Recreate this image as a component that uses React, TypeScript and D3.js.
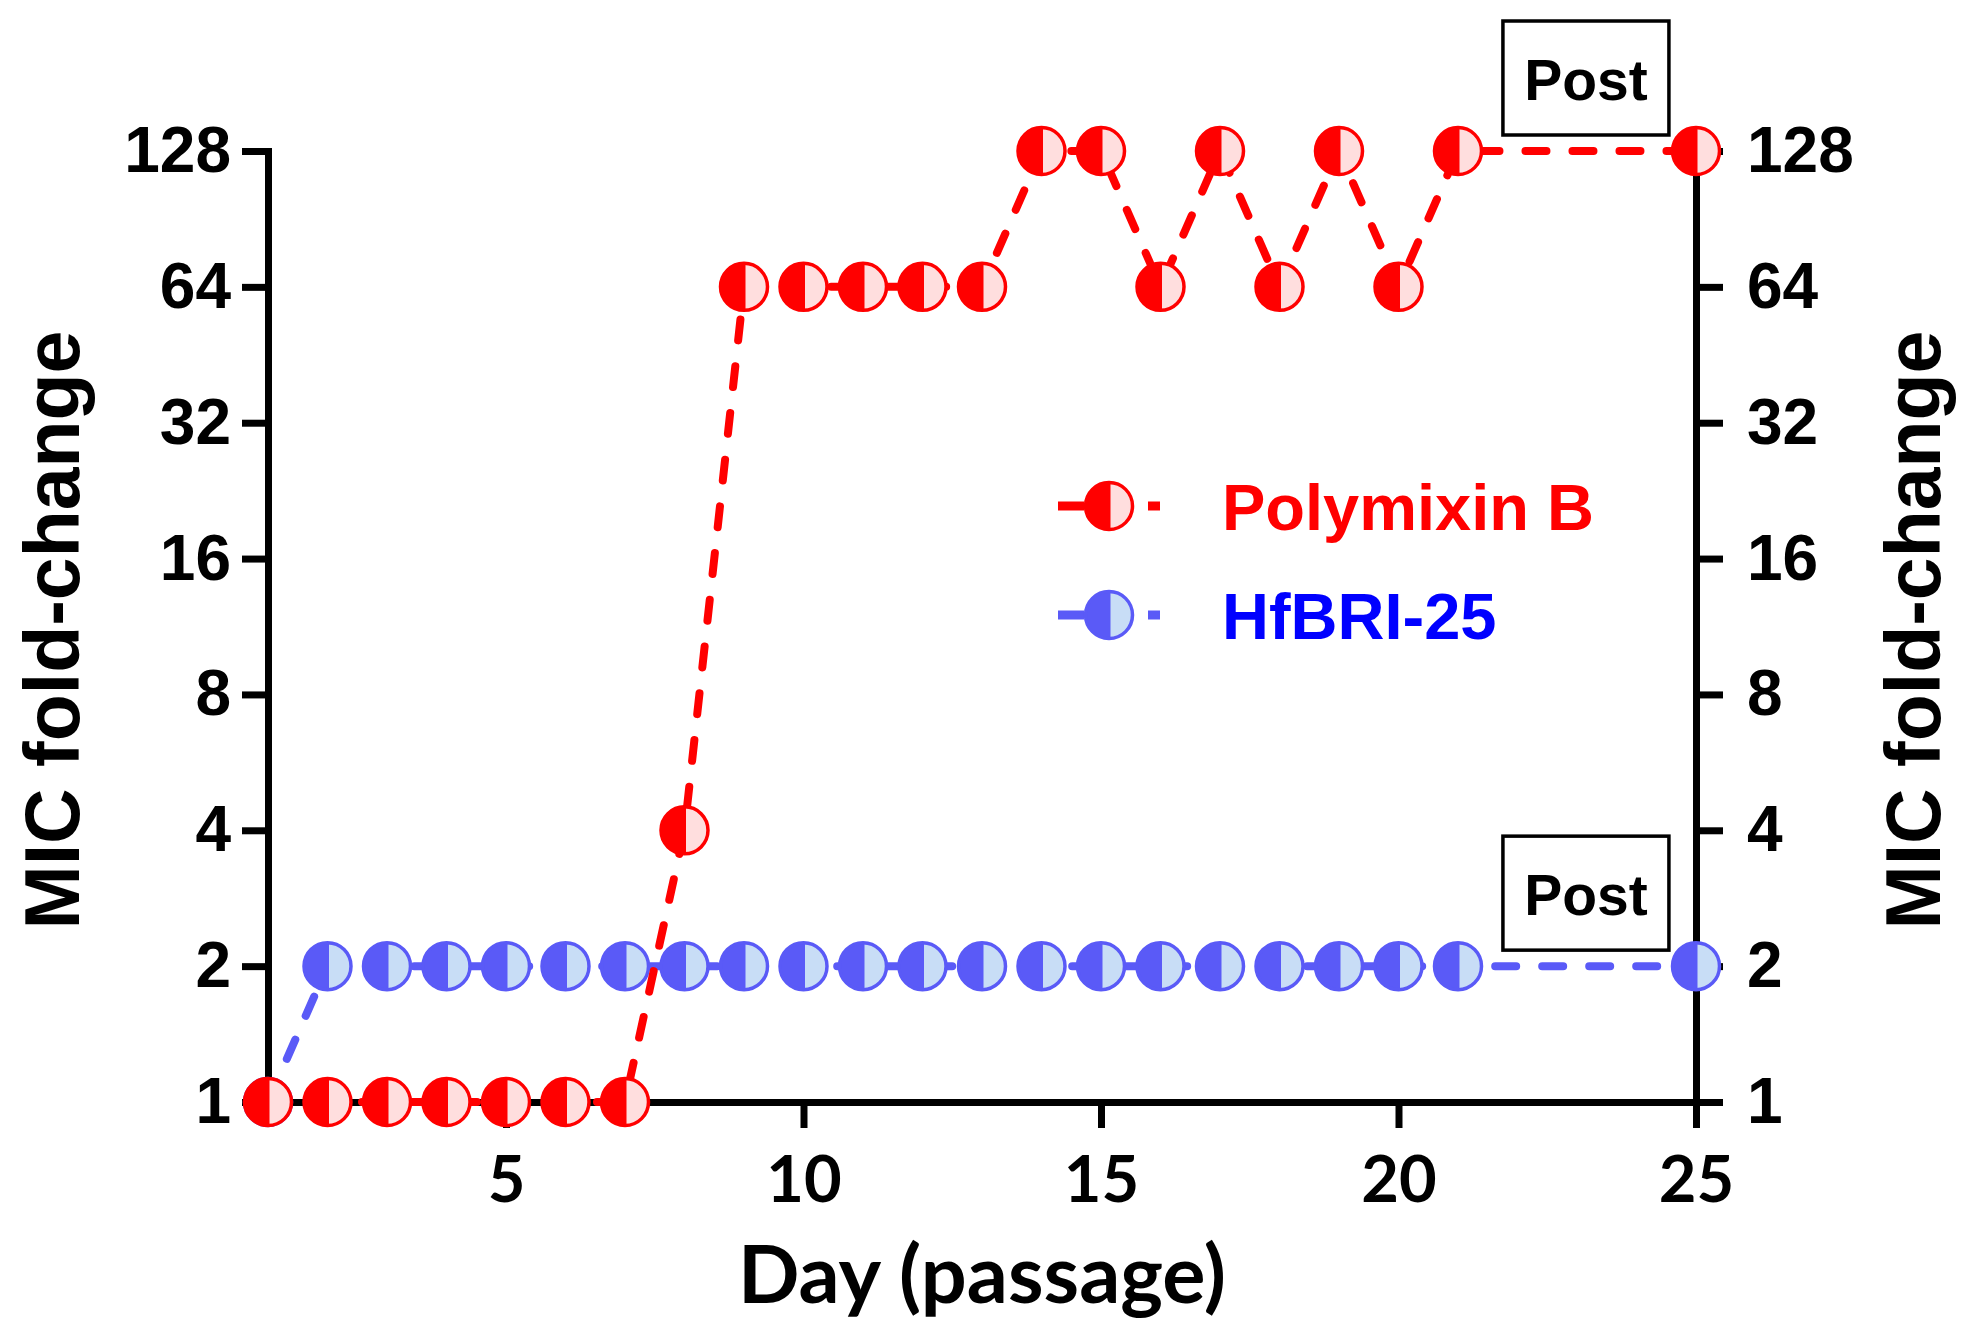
import React, { useRef, useEffect } from "react";
import * as d3 from "d3";

const days = [1, 2, 3, 4, 5, 6, 7, 8, 9, 10, 11, 12, 13, 14, 15, 16, 17, 18, 19, 20, 21, 25];
const polymyxinB = [1, 1, 1, 1, 1, 1, 1, 4, 64, 64, 64, 64, 64, 128, 128, 64, 128, 64, 128, 64, 128, 128];
const hfbri25 = [1, 2, 2, 2, 2, 2, 2, 2, 2, 2, 2, 2, 2, 2, 2, 2, 2, 2, 2, 2, 2, 2];
const yTicks = [1, 2, 4, 8, 16, 32, 64, 128];
const xTicks = [5, 10, 15, 20, 25];
const seriesNames = ["Polymixin B", "HfBRI-25"];
const postLabel = "Post";

const ARIAL = "'Liberation Sans', Arial, sans-serif";
const CALIBRI = "Lato, 'Open Sans', sans-serif";

const App: React.FC = () => {
  const ref = useRef<SVGSVGElement | null>(null);

  useEffect(() => {
    if (!ref.current) return;
    const svg = d3.select(ref.current);
    svg.selectAll("*").remove();

    const width = 1977;
    const height = 1344;
    const left = 268;
    const right = 1696;
    const top = 151;
    const bottom = 1102;

    const x = d3.scaleLinear().domain([1, 25]).range([left, right]);
    const y = d3.scaleLog().base(2).domain([1, 128]).range([bottom, top]);

    svg.attr("width", width).attr("height", height);

    const styleAxis = (g: d3.Selection<SVGGElement, unknown, null, undefined>, font: string, size: number) => {
      g.attr("font-family", font).attr("font-size", size).attr("font-weight", "bold");
      g.selectAll(".domain").attr("stroke-width", 7).attr("stroke", "#000").attr("stroke-linecap", "square");
      g.selectAll(".tick line").attr("stroke-width", 7).attr("stroke", "#000");
      g.selectAll(".tick text").attr("fill", "#000");
    };

    // axes
    const gx = svg
      .append("g")
      .attr("transform", `translate(0,${bottom})`)
      .call(d3.axisBottom(x).tickValues(xTicks).tickSize(26).tickSizeOuter(0).tickPadding(28).tickFormat(d3.format("d")));
    styleAxis(gx, CALIBRI, 65);

    const gl = svg
      .append("g")
      .attr("transform", `translate(${left},0)`)
      .call(d3.axisLeft(y).tickValues(yTicks).tickSize(26).tickSizeOuter(0).tickPadding(11).tickFormat(d3.format("d")));
    styleAxis(gl, ARIAL, 64);

    const gr = svg
      .append("g")
      .attr("transform", `translate(${right},0)`)
      .call(d3.axisRight(y).tickValues(yTicks).tickSize(27).tickSizeOuter(0).tickPadding(24).tickFormat(d3.format("d")));
    styleAxis(gr, ARIAL, 64);

    // axis titles
    svg
      .append("text")
      .attr("x", (left + right) / 2)
      .attr("y", 1303)
      .attr("text-anchor", "middle")
      .attr("font-family", CALIBRI)
      .attr("font-weight", "bold")
      .attr("font-size", 81)
      .text("Day (passage)");

    [79, 1940].forEach((bx) => {
      svg
        .append("text")
        .attr("transform", `translate(${bx},630) rotate(-90)`)
        .attr("text-anchor", "middle")
        .attr("font-family", ARIAL)
        .attr("font-weight", "bold")
        .attr("font-size", 77)
        .text("MIC fold-change");
    });

    const r = 23.5;
    const halfArc = d3.arc<any>()({ innerRadius: 0, outerRadius: r, startAngle: Math.PI, endAngle: 2 * Math.PI }) as string;

    const drawMarker = (g: d3.Selection<any, any, any, any>, dark: string, light: string) => {
      g.append("circle").attr("r", r).attr("fill", light);
      g.append("path").attr("d", halfArc).attr("fill", dark);
      g.append("line").attr("y1", -r).attr("y2", r).attr("stroke", dark).attr("stroke-width", 3);
      g.append("circle").attr("r", r).attr("fill", "none").attr("stroke", dark).attr("stroke-width", 3.5);
    };

    const series = [
      { values: hfbri25, dark: "#5a5af7", light: "#c8ddf6" },
      { values: polymyxinB, dark: "#ff0000", light: "#ffdede" },
    ];

    const line = d3
      .line<number>()
      .x((_, i) => x(days[i]))
      .y((d) => y(d));

    series.forEach((s) => {
      svg
        .append("path")
        .attr("d", line(s.values))
        .attr("fill", "none")
        .attr("stroke", s.dark)
        .attr("stroke-width", 8)
        .attr("stroke-linecap", "round")
        .attr("stroke-dasharray", "21 26");

      svg
        .append("g")
        .selectAll("g")
        .data(s.values)
        .enter()
        .append("g")
        .attr("transform", (d, i) => `translate(${x(days[i])},${y(d)})`)
        .each(function () {
          drawMarker(d3.select(this), s.dark, s.light);
        });
    });

    // Post annotations, anchored above the last passage of each series
    [polymyxinB, hfbri25].forEach((vals) => {
      const cx = x(23.15);
      const cy = y(vals[vals.length - 1]) - 73;
      const g = svg.append("g").attr("transform", `translate(${cx},${cy})`);
      g.append("rect")
        .attr("x", -83)
        .attr("y", -57)
        .attr("width", 166)
        .attr("height", 114)
        .attr("fill", "#fff")
        .attr("stroke", "#000")
        .attr("stroke-width", 3.5);
      g.append("text")
        .attr("y", 22)
        .attr("text-anchor", "middle")
        .attr("font-family", ARIAL)
        .attr("font-weight", "bold")
        .attr("font-size", 57)
        .text(postLabel);
    });

    // legend
    const legendColors = [
      { dark: "#ff0000", light: "#ffdede", text: "#ff0000" },
      { dark: "#5a5af7", light: "#c8ddf6", text: "#0000ff" },
    ];
    legendColors.forEach((c, i) => {
      const g = svg.append("g").attr("transform", `translate(1109,${506 + i * 109})`);
      g.append("line")
        .attr("x1", -51)
        .attr("x2", 51)
        .attr("stroke", c.dark)
        .attr("stroke-width", 9)
        .attr("stroke-dasharray", "26 19");
      drawMarker(g.append("g"), c.dark, c.light);
      g.append("text")
        .attr("x", 113)
        .attr("y", 24)
        .attr("fill", c.text)
        .attr("font-family", ARIAL)
        .attr("font-weight", "bold")
        .attr("font-size", 65)
        .text(seriesNames[i]);
    });
  }, []);

  return (
    <div style={{ position: "absolute", left: 0, top: 0, width: 1977, height: 1344, background: "#fff" }}>
      <svg ref={ref} />
    </div>
  );
};

export default App;
